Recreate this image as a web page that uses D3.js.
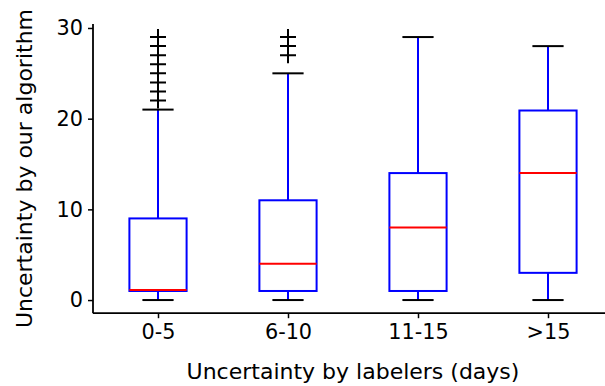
<html>
<body style="margin:0">
<svg width="605" height="386"></svg>
</body>
<style>
  text { font-family: "DejaVu Sans", sans-serif; fill: #000; }
</style>
<script src="https://d3js.org/d3.v7.min.js"></script>
<script>
// box stats
const groups = ["0-5", "6-10", "11-15", ">15"];
const lowWhisker = [0, 0, 0, 0];
const q1 = [1, 1, 1, 3];
const median = [1.1, 4, 8, 14];
const q3 = [9, 11, 14, 20.9];
const highWhisker = [21, 25, 29, 28];
const fliers = [
  [22, 23, 24, 25, 26, 27, 28, 29],
  [27, 28, 29],
  [],
  []
];
const yTicks = [0, 10, 20, 30];

var svg = d3.select("svg");
var margin = {left: 93, top: 23.9, right: 0, bottom: 386 - 313.2};
var width = 605 - margin.left,
    height = 386 - margin.top - margin.bottom;

var g = svg.append("g")
  .attr("transform", "translate(" + margin.left + "," + margin.top + ")");

var x = d3.scaleLinear().domain([0.5, 4.5]).range([0, 130 * 4]);
var y = d3.scaleLinear().domain([-1.45, 30.45]).range([height, 0]);

var boxW = x(1.22) - x(1), capW = x(1.12) - x(1);

var data = groups.map(function (name, i) {
  return {name: name, pos: i + 1, lo: lowWhisker[i], q1: q1[i], med: median[i],
          q3: q3[i], hi: highWhisker[i], fl: fliers[i]};
});

var box = g.selectAll(".box").data(data).enter().append("g").attr("class", "box");

// whiskers
box.append("line")
  .attr("x1", d => x(d.pos)).attr("x2", d => x(d.pos))
  .attr("y1", d => y(d.lo)).attr("y2", d => y(d.q1))
  .attr("stroke", "#0000ff").attr("stroke-width", 2);
box.append("line")
  .attr("x1", d => x(d.pos)).attr("x2", d => x(d.pos))
  .attr("y1", d => y(d.q3)).attr("y2", d => y(d.hi))
  .attr("stroke", "#0000ff").attr("stroke-width", 2);

// caps
["lo", "hi"].forEach(function (k) {
  box.append("line")
    .attr("x1", d => x(d.pos) - capW).attr("x2", d => x(d.pos) + capW)
    .attr("y1", d => y(d[k])).attr("y2", d => y(d[k]))
    .attr("stroke", "#000").attr("stroke-width", 2);
});

box.append("rect")
  .attr("x", d => x(d.pos) - boxW)
  .attr("y", d => y(d.q3))
  .attr("width", boxW * 2)
  .attr("height", d => y(d.q1) - y(d.q3))
  .attr("fill", "none").attr("stroke", "#0000ff").attr("stroke-width", 2);

box.append("line")
  .attr("x1", d => x(d.pos) - boxW).attr("x2", d => x(d.pos) + boxW)
  .attr("y1", d => y(d.med)).attr("y2", d => y(d.med))
  .attr("stroke", "#ff0000").attr("stroke-width", 2);

// fliers as plus markers
box.each(function (d) {
  d3.select(this).selectAll(".fl").data(d.fl).enter().append("path")
    .attr("class", "fl")
    .attr("d", v => "M" + (x(d.pos) - 8) + "," + y(v) + "h16M" + x(d.pos) + "," + (y(v) - 8) + "v16")
    .attr("stroke", "#000").attr("stroke-width", 2).attr("fill", "none");
});

// axes
var xAxis = g.append("g")
  .attr("transform", "translate(0," + height + ")")
  .call(d3.axisBottom(x).tickValues([1, 2, 3, 4]).tickFormat((d, i) => groups[i]).tickSize(5).tickPadding(5));
var yAxis = g.append("g")
  .call(d3.axisLeft(y).tickValues(yTicks).tickSize(5).tickPadding(5));

[xAxis, yAxis].forEach(function (a) {
  a.select(".domain").remove();
  a.selectAll(".tick line").attr("stroke", "#000").attr("stroke-width", 1.5);
  a.selectAll(".tick text").attr("font-size", "20.8px").attr("font-family", "DejaVu Sans");
});
xAxis.selectAll(".tick text").attr("dy", "0.76em");

g.append("line").attr("x1", 0).attr("x2", 0).attr("y1", 0).attr("y2", height)
  .attr("stroke", "#000").attr("stroke-width", 1.8);
g.append("line").attr("x1", 0).attr("x2", width).attr("y1", height).attr("y2", height)
  .attr("stroke", "#000").attr("stroke-width", 1.8);

svg.append("text")
  .attr("x", margin.left + x(2.5)).attr("y", 379)
  .attr("text-anchor", "middle").attr("font-size", "22px")
  .text("Uncertainty by labelers (days)");

svg.append("text")
  .attr("transform", "translate(31.5," + (margin.top + height / 2) + ") rotate(-90)")
  .attr("text-anchor", "middle").attr("font-size", "22px")
  .text("Uncertainty by our algorithm");
</script>
</html>
